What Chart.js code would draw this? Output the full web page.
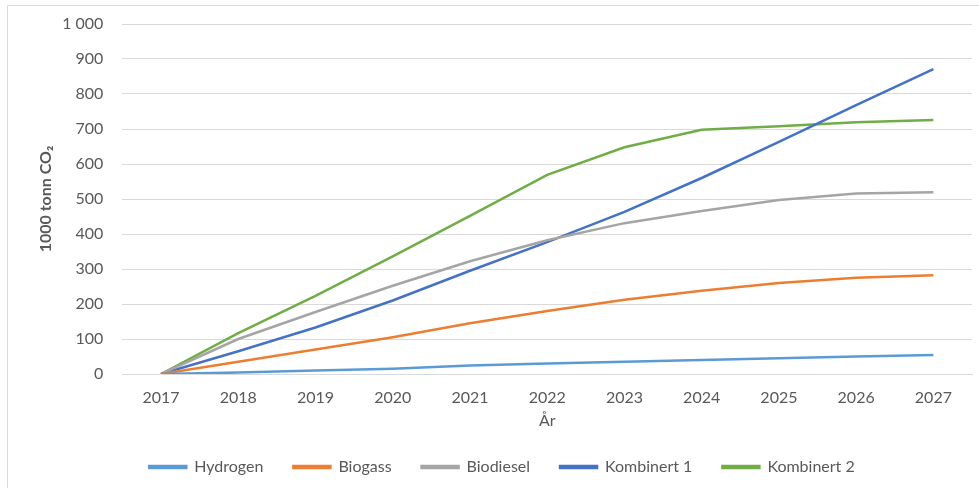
<!DOCTYPE html>
<html>
<head>
<meta charset="utf-8">
<script src="https://cdn.jsdelivr.net/npm/chart.js@4/dist/chart.umd.min.js"></script>
<style>
  html, body { margin: 0; padding: 0; background: #ffffff; }
  #wrap { position: relative; width: 979px; height: 488px; }
</style>
</head>
<body>
<div id="wrap"><canvas id="c" width="979" height="488"></canvas></div>
<script>
const years = ['2017','2018','2019','2020','2021','2022','2023','2024','2025','2026','2027'];
const hydrogen   = [0, 4, 10, 15, 24, 30, 35, 40, 45, 50, 54];
const biogass    = [0, 35, 70, 105, 145, 180, 212, 238, 260, 275, 282];
const biodiesel  = [0, 100, 177, 252, 322, 382, 431, 466, 497, 516, 519];
const kombinert1 = [0, 65, 133, 210, 295, 377, 463, 560, 663, 768, 871];
const kombinert2 = [0, 117, 223, 336, 452, 569, 648, 698, 708, 719, 726];
const seriesNames = ['Hydrogen', 'Biogass', 'Biodiesel', 'Kombinert 1', 'Kombinert 2'];
const seriesColors = ['#5B9BD5', '#ED7D31', '#A5A5A5', '#4472C4', '#70AD47'];
const seriesData = [hydrogen, biogass, biodiesel, kombinert1, kombinert2];
const yTitle = '1000 tonn CO\u2082';
const xTitle = 'År';

const FONT = 'Lato, "Open Sans", sans-serif';
const TXT = '#595959';
const GRID = '#d9d9d9';

const borderPlugin = {
  id: 'frame',
  beforeDraw(chart) {
    const ctx = chart.ctx;
    ctx.save();
    ctx.fillStyle = '#ffffff';
    ctx.fillRect(0, 0, chart.width, chart.height);
    ctx.strokeStyle = '#d9d9d9';
    ctx.lineWidth = 1;
    ctx.beginPath();
    ctx.moveTo(7.5, chart.height);
    ctx.lineTo(7.5, 5.5);
    ctx.lineTo(chart.width, 5.5);
    ctx.stroke();
    ctx.restore();
  }
};

new Chart(document.getElementById('c'), {
  type: 'line',
  data: {
    labels: years,
    datasets: seriesData.map((d, i) => ({
      label: seriesNames[i],
      data: d,
      borderColor: seriesColors[i],
      backgroundColor: seriesColors[i],
      borderWidth: 2.5,
      pointRadius: 0,
      tension: 0,
      fill: false
    }))
  },
  options: {
    responsive: false,
    animation: false,
    devicePixelRatio: 1,
    layout: { padding: { top: 24, right: 7, left: 32, bottom: 3 } },
    plugins: {
      legend: {
        position: 'bottom',
        labels: {
          boxWidth: 37,
          boxHeight: 2,
          padding: 30,
          color: TXT,
          font: { family: FONT, size: 16 }
        }
      },
      tooltip: { enabled: false }
    },
    scales: {
      x: {
        offset: true,
        grid: { display: false, drawTicks: false },
        border: { display: true, color: GRID, width: 1 },
        ticks: { color: TXT, font: { family: FONT, size: 16 }, padding: 14, maxRotation: 0 },
        title: { display: true, text: xTitle, color: TXT, font: { family: FONT, size: 16, lineHeight: 1 }, padding: { top: 0, bottom: 0 } },
        afterFit(scale) { scale.height = 55; }
      },
      y: {
        min: 0,
        max: 1000,
        grid: { color: GRID, drawTicks: true, tickLength: 14, tickColor: 'rgba(0,0,0,0)', lineWidth: 1 },
        border: { display: false },
        ticks: {
          stepSize: 100,
          color: TXT,
          padding: 5,
          font: { family: FONT, size: 16 },
          callback: v => v >= 1000 ? String(v).replace(/(\d)(?=(\d{3})+$)/, '$1 ') : String(v)
        },
        title: { display: true, text: yTitle, color: TXT, font: { family: FONT, size: 16, weight: 'bold' }, padding: { top: 4, bottom: 0 } },
        afterFit(scale) { scale.width = 90.4; }
      }
    }
  },
  plugins: [borderPlugin]
});
</script>
</body>
</html>
